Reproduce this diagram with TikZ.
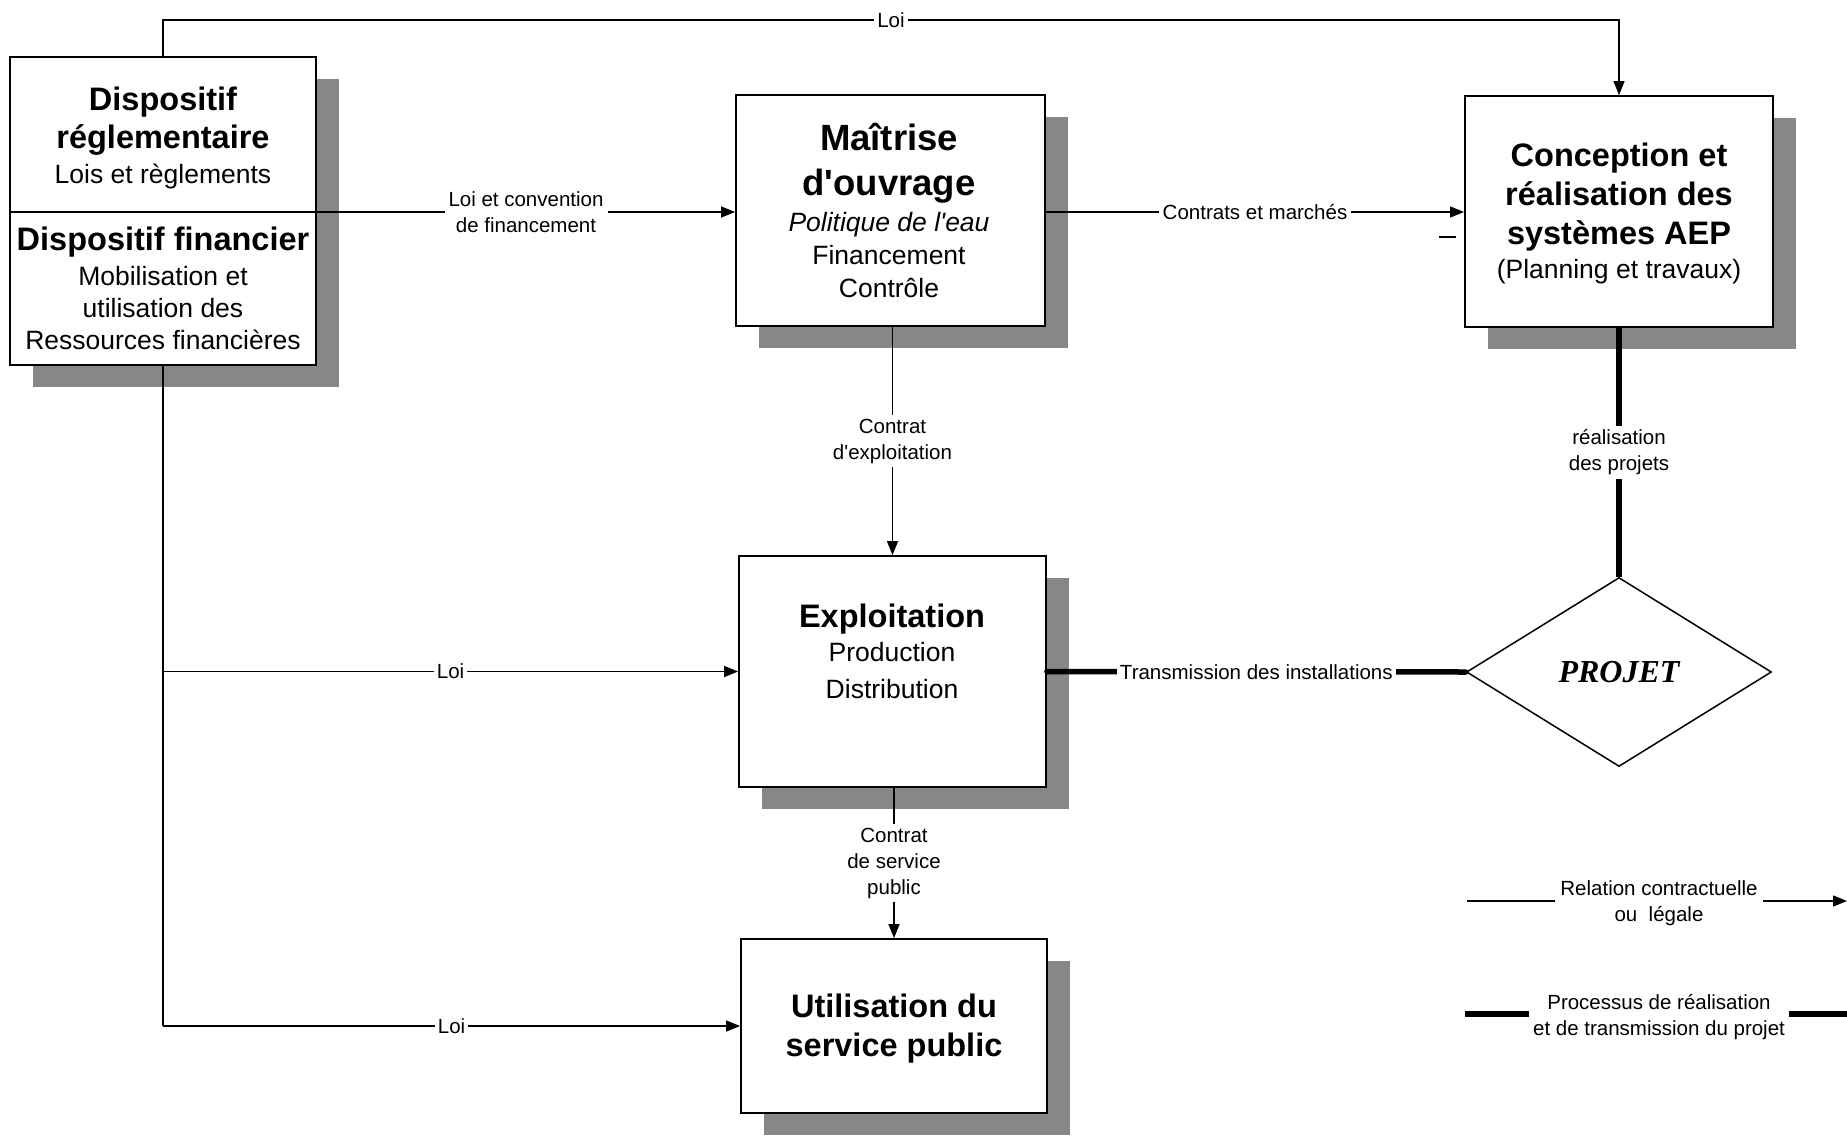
\documentclass[tikz,border=0pt]{standalone}
\usepackage{fontspec}
\newfontfamily\arial{Liberation Sans}
\newfontfamily\tnr{Liberation Serif}
\usetikzlibrary{arrows.meta,shapes.geometric,shadows}

\begin{document}
\begin{tikzpicture}[x=1pt,y=-1pt,
  box/.style={draw, line width=1.8pt, fill=white, inner sep=0pt,
    general shadow={shadow xshift=23pt, shadow yshift=-22pt, fill=black!47}},
  ln/.style={anchor=base, inner sep=0pt},
  ttl/.style={ln, font=\arial\bfseries\fontsize{32.5}{38}\selectfont},
  bigttl/.style={ln, font=\arial\bfseries\fontsize{36.5}{42}\selectfont},
  sub/.style={ln, font=\arial\fontsize{26.5}{31}\selectfont},
  lbl/.style={fill=white, inner sep=4pt, align=center,
    font=\arial\fontsize{20.5}{26}\selectfont},
  rel/.style={line width=1.3pt},
  relarrow/.style={rel, -{Triangle[length=14pt,width=11pt]}},
  proc/.style={line width=5.5pt}]
\useasboundingbox (0,0) rectangle (1847,1135);

% ---- boxes ----
\node[box, minimum width=306pt, minimum height=308pt] (disp) at (163,211) {};
\node[box, minimum width=309pt, minimum height=231pt] (mo) at (890.5,210.5) {};
\node[box, minimum width=308pt, minimum height=231pt] (conc) at (1619,211.5) {};
\node[box, minimum width=307pt, minimum height=231pt] (expl) at (892.5,671.5) {};
\node[box, minimum width=306pt, minimum height=174pt] (util) at (894,1026) {};
\node[draw, diamond, line width=1.5pt, fill=white, inner sep=0pt,
      minimum width=305pt, minimum height=189pt] (proj) at (1619,672) {};

% divider of the left box
\coordinate (divy) at (0,212);
\draw[line width=1.5pt] (disp.west |- divy) -- (disp.east |- divy);

% ---- box texts ----
\node[ttl] (d1) at (163,110) {Dispositif};
\node[ttl] (d2) at (163,148) {réglementaire};
\node[sub] (d3) at (163,183) {Lois et règlements};
\node[ttl] (d4) at (163,250) {Dispositif financier};
\node[sub] (d5) at (163,285) {Mobilisation et};
\node[sub] (d6) at (163,317) {utilisation des};
\node[sub] (d7) at (163,349) {Ressources financières};

\node[bigttl] (m1) at (889,150) {Maîtrise};
\node[bigttl] (m2) at (889,195) {d'ouvrage};
\node[sub, font=\arial\itshape\fontsize{26.5}{31}\selectfont] (m3) at (889,231) {Politique de l'eau};
\node[sub] (m4) at (889,264) {Financement};
\node[sub] (m5) at (889,297) {Contrôle};

\node[ttl] (c1) at (1619,166) {Conception et};
\node[ttl] (c2) at (1619,205) {réalisation des};
\node[ttl] (c3) at (1619,244) {systèmes AEP};
\node[sub] (c4) at (1619,278) {(Planning et travaux)};

\node[ttl] (e1) at (892,627) {Exploitation};
\node[sub] (e2) at (892,661) {Production};
\node[sub] (e3) at (892,698) {Distribution};

\node[ttl] (u1) at (894,1017) {Utilisation du};
\node[ttl] (u2) at (894,1056) {service public};

\node[font=\tnr\bfseries\itshape\fontsize{32}{36}\selectfont, inner sep=0pt] (pj) at (proj.center) {PROJET};

% ---- contractual / legal relations ----
\coordinate (topy) at (0,20);
\draw[relarrow] (disp.north) -- (disp.north |- topy)
  -- node[lbl, inner sep=3pt] (lloi) {Loi} (conc.north |- topy) -- (conc.north);
\draw[relarrow] (disp.east |- divy) -- node[lbl] (lconv) {Loi et convention\\de financement} (mo.west |- divy);
\draw[relarrow] (mo.east |- divy) -- node[lbl] (lcm) {Contrats et marchés} (conc.west |- divy);
\draw[relarrow] (mo.south -| expl.north) -- node[lbl] (lce) {Contrat\\d'exploitation} (expl.north);
\draw[relarrow] (expl.south -| util.north) -- node[lbl] (lcs) {Contrat\\de service\\public} (util.north);
\draw[rel] (disp.south) -- (disp.south |- util.west);
\draw[relarrow] (disp.south |- expl.west) -- node[lbl, inner sep=3pt] (lloi2) {Loi} (expl.west);
\draw[relarrow] (disp.south |- util.west) -- node[lbl, inner sep=3pt] (lloi3) {Loi} (util.west);

% ---- realisation and transmission process ----
\draw[proc] (conc.south) -- node[lbl] (lrp) {réalisation\\des projets} (proj.north);
\draw[proc, line cap=round] (proj.west) -- node[lbl, inner sep=3pt] (lti) {Transmission des installations} (expl.east);

% small tick left of the design box
\coordinate (tk1) at (1439,237);
\coordinate (tk2) at (1456,237);
\draw[line width=1.8pt] (tk1) -- (tk2);

% ---- legend ----
\node[lbl, fill=none, inner sep=5pt] (leg1) at (1659,903) {Relation contractuelle\\ou\ \ légale};
\coordinate (l1a) at (1467,901);
\coordinate (l1b) at (1847,901);
\draw[rel] (l1a) -- (l1a -| leg1.west);
\draw[relarrow] (l1b -| leg1.east) -- (l1b);

\node[lbl, fill=none, inner sep=4pt] (leg2) at (1659,1017) {Processus de réalisation\\et de transmission du projet};
\coordinate (l2a) at (1465,1014);
\coordinate (l2b) at (1847,1014);
\draw[proc] (l2a) -- (l2a -| leg2.west);
\draw[proc] (l2b -| leg2.east) -- (l2b);
\end{tikzpicture}
\end{document}
